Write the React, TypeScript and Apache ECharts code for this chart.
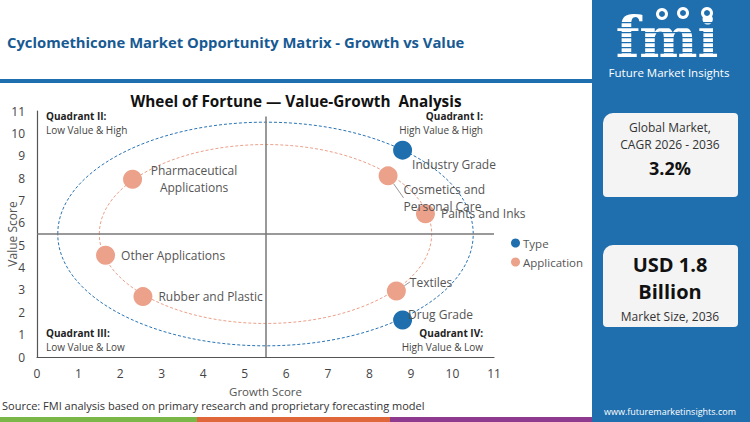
import { useEffect, useRef } from 'react';
import * as echarts from 'echarts';

const FONT = '"Open Sans", "Noto Sans", sans-serif';

// Axis scale (both axes run 0..11, step 1)
const axisMin = 0;
const axisMax = 11;
const axisStep = 1;

// Type series
const typeNames = ['Industry Grade', 'Drug Grade'];
const typeGrowth = [8.8, 8.8];
const typeValue = [9.25, 1.65];

// Application series
const appNames = [
    'Pharmaceutical\nApplications',
    'Other Applications',
    'Rubber and Plastic',
    'Cosmetics and\nPersonal Care',
    'Paints and Inks',
    'Textiles',
];
const appGrowth = [2.3, 1.65, 2.55, 8.45, 9.35, 8.65];
const appValue = [7.95, 4.55, 2.7, 8.1, 6.4, 2.95];

// Wheel rings: centre and radius in score units
const ringCenter = [5.5, 5.5];
const ringRadius = [5, 4]; // Type ring, Application ring
const quadrantSplit = 5.5;

const BLUE = '#1f6fae';
const SALMON = '#eba18a';

// label placement (px) per point name
const labelShift: Record<string, { dx: number; dy: number; center?: boolean; line?: boolean }> = {
    'Industry Grade': { dx: 0, dy: 14 },
    'Drug Grade': { dx: -4, dy: -6 },
    'Pharmaceutical\nApplications': { dx: 52, dy: 0, center: true },
    'Other Applications': { dx: 6, dy: 0 },
    'Rubber and Plastic': { dx: 6, dy: 0 },
    'Cosmetics and\nPersonal Care': { dx: 6, dy: 22, line: true },
    'Paints and Inks': { dx: 6, dy: 0 },
    Textiles: { dx: 4, dy: -9, line: true },
};

const toPoints = (names: string[], xs: number[], ys: number[]) =>
    names.map((n, i) => {
        const s = labelShift[n] || { dx: 0, dy: 0 };
        return {
            name: n,
            value: [xs[i], ys[i]],
            label: s.center ? { align: 'center' } : undefined,
            labelLine: { show: !!s.line, lineStyle: { color: '#999', width: 1 } },
        };
    });

const ringSeries = (idx: number, color: string) => ({
    type: 'custom',
    silent: true,
    z: 1,
    clip: false,
    renderItem: (_p: any, api: any) => {
        const c = api.coord([api.value(0), api.value(1)]);
        const s = api.size([api.value(2), api.value(2)]);
        return {
            type: 'ellipse',
            shape: { cx: c[0], cy: c[1], rx: s[0], ry: s[1] },
            style: { fill: 'none', stroke: color, lineWidth: 1, lineDash: [3, 2] },
        };
    },
    data: [[ringCenter[0], ringCenter[1], ringRadius[idx]]],
});

export default function App() {
    const chartRef = useRef<HTMLDivElement>(null);

    useEffect(() => {
        if (!chartRef.current) return;
        const chart = echarts.init(chartRef.current, undefined, { renderer: 'svg' });

        const labelLayout = (params: any) => {
            const s = labelShift[params.text];
            if (!s) return {};
            return { dx: s.dx, dy: s.dy };
        };

        const pointLabel = {
            show: true,
            position: 'right',
            distance: 0,
            formatter: '{b}',
            color: '#555',
            fontSize: 12,
            fontFamily: FONT,
            lineHeight: 17,
        };

        const option = {
            animation: false,
            textStyle: { fontFamily: FONT },
            title: [
                {
                    text: 'Cyclomethicone Market Opportunity Matrix - Growth vs Value',
                    left: 7,
                    top: 34,
                    padding: 0,
                    textStyle: { color: '#175a93', fontSize: 14.8, fontWeight: 'bold', fontFamily: FONT },
                },
                {
                    text: 'Wheel of Fortune — Value-Growth  Analysis',
                    left: 296,
                    top: 93,
                    padding: 0,
                    textAlign: 'center',
                    textStyle: { color: '#111', fontSize: 15.3, fontWeight: 'bold', fontFamily: FONT },
                },
            ],
            legend: {
                data: ['Type', 'Application'],
                orient: 'vertical',
                left: 511,
                top: 237,
                padding: 0,
                icon: 'circle',
                itemWidth: 9,
                itemHeight: 9,
                itemGap: 7,
                textStyle: { color: '#555', fontSize: 11.5, fontFamily: FONT, padding: [0, 0, 0, -2] },
            },
            grid: { left: 37, right: 256, top: 111, bottom: 65, outerBoundsMode: 'none' },
            xAxis: {
                type: 'value',
                min: axisMin,
                max: axisMax,
                interval: axisStep,
                name: 'Growth Score',
                nameLocation: 'middle',
                nameGap: 28,
                nameMoveOverlap: false,
                nameTextStyle: { color: '#555', fontSize: 11.5, fontFamily: FONT, lineHeight: 13 },
                axisLine: { show: true, lineStyle: { color: '#555', width: 1.2 } },
                axisTick: { show: false },
                axisLabel: { color: '#444', fontSize: 12, margin: 10, lineHeight: 13, fontFamily: FONT },
                splitLine: { show: false },
            },
            yAxis: {
                type: 'value',
                min: axisMin,
                max: axisMax,
                interval: axisStep,
                name: 'Value Score',
                nameLocation: 'middle',
                nameGap: 19,
                nameMoveOverlap: false,
                nameTextStyle: { color: '#555', fontSize: 12, fontFamily: FONT },
                axisLine: { show: true, lineStyle: { color: '#555', width: 1.2 } },
                axisTick: { show: false },
                axisLabel: { color: '#444', fontSize: 12, margin: 12, fontFamily: FONT },
                splitLine: { show: false },
            },
            series: [
                ringSeries(0, '#2a74b4'),
                ringSeries(1, SALMON),
                {
                    type: 'scatter',
                    name: 'Application',
                    symbolSize: 19,
                    z: 3,
                    itemStyle: { color: SALMON, opacity: 1 },
                    label: pointLabel,
                    labelLayout,
                    data: toPoints(appNames, appGrowth, appValue),
                    markLine: {
                        silent: true,
                        symbol: 'none',
                        label: { show: false },
                        lineStyle: { color: '#777', width: 1.5, type: 'solid' },
                        data: [
                            [{ coord: [quadrantSplit, axisMin] }, { coord: [quadrantSplit, 10.75] }],
                            [{ coord: [axisMin, quadrantSplit] }, { coord: [axisMax, quadrantSplit] }],
                        ],
                    },
                },
                {
                    type: 'scatter',
                    name: 'Type',
                    symbolSize: 19,
                    z: 4,
                    itemStyle: { color: BLUE, opacity: 1 },
                    label: pointLabel,
                    labelLayout,
                    data: toPoints(typeNames, typeGrowth, typeValue),
                },
            ],
            graphic: [
                // header rule
                { type: 'rect', shape: { x: 0, y: 79, width: 592, height: 4 }, style: { fill: BLUE } },
                // quadrant captions
                { type: 'text', left: 46, top: 111, style: { text: 'Quadrant II:', font: `bold 10px ${FONT}`, fill: '#222' } },
                { type: 'text', left: 46, top: 125, style: { text: 'Low Value & High', font: `10px ${FONT}`, fill: '#444' } },
                { type: 'text', right: 267, top: 111, style: { text: 'Quadrant I:', font: `bold 10px ${FONT}`, fill: '#222' } },
                { type: 'text', right: 267, top: 125, style: { text: 'High Value & High', font: `10px ${FONT}`, fill: '#444' } },
                { type: 'text', left: 46, top: 328, style: { text: 'Quadrant III:', font: `bold 10px ${FONT}`, fill: '#222' } },
                { type: 'text', left: 46, top: 342, style: { text: 'Low Value & Low', font: `10px ${FONT}`, fill: '#444' } },
                { type: 'text', right: 267, top: 328, style: { text: 'Quadrant IV:', font: `bold 10px ${FONT}`, fill: '#222' } },
                { type: 'text', right: 267, top: 342, style: { text: 'High Value & Low', font: `10px ${FONT}`, fill: '#444' } },
                // source
                {
                    type: 'text',
                    left: 2,
                    top: 400,
                    style: {
                        text: 'Source: FMI analysis based on primary research and proprietary forecasting model',
                        font: `11px ${FONT}`,
                        fill: '#333',
                    },
                },
                // bottom colour bar
                { type: 'rect', shape: { x: 0, y: 417, width: 197, height: 5 }, style: { fill: '#7ab648' } },
                { type: 'rect', shape: { x: 197, y: 417, width: 193, height: 5 }, style: { fill: '#e0673a' } },
                { type: 'rect', shape: { x: 390, y: 417, width: 202, height: 5 }, style: { fill: '#8e3b8f' } },
                // right panel
                { type: 'rect', shape: { x: 592, y: 0, width: 158, height: 422 }, style: { fill: BLUE } },
                // logo
                {
                    type: 'text',
                    x: 667,
                    y: 37,
                    scaleX: 1.1,
                    scaleY: 1.12,
                    style: {
                        text: 'fmi',
                        font: `bold 50px "DejaVu Serif", serif`,
                        lineHeight: 34,
                        fill: '#fff',
                        align: 'center',
                        verticalAlign: 'middle',
                    },
                },
                ...[22, 27, 32, 37, 42, 47, 52, 57].map((y) => ({
                    type: 'rect',
                    shape: { x: 610, y, width: 116, height: 1.3 },
                    style: { fill: BLUE },
                })),
                { type: 'circle', shape: { cx: 662, cy: 14, r: 6 }, style: { fill: '#fff' } },
                { type: 'circle', shape: { cx: 683, cy: 13, r: 6 }, style: { fill: '#fff' } },
                { type: 'circle', shape: { cx: 707, cy: 13, r: 6 }, style: { fill: '#fff' } },
                { type: 'circle', shape: { cx: 662, cy: 14, r: 3 }, style: { fill: BLUE } },
                { type: 'circle', shape: { cx: 683, cy: 13, r: 3 }, style: { fill: BLUE } },
                { type: 'circle', shape: { cx: 707, cy: 13, r: 3 }, style: { fill: BLUE } },
                {
                    type: 'text',
                    x: 669,
                    y: 72,
                    style: {
                        text: 'Future Market Insights',
                        font: `11.5px ${FONT}`,
                        fill: '#fff',
                        align: 'center',
                        verticalAlign: 'middle',
                    },
                },
                // CAGR card
                {
                    type: 'rect',
                    shape: { x: 603, y: 113, width: 135, height: 84, r: [10, 4, 4, 4] },
                    style: { fill: '#f4f4f4' },
                },
                { type: 'text', x: 670, y: 127, style: { text: 'Global Market,', font: `12px ${FONT}`, fill: '#333', align: 'center', verticalAlign: 'middle' } },
                { type: 'text', x: 670, y: 144, style: { text: 'CAGR 2026 - 2036', font: `12px ${FONT}`, fill: '#333', align: 'center', verticalAlign: 'middle' } },
                { type: 'text', x: 670, y: 168, style: { text: '3.2%', font: `bold 18px ${FONT}`, fill: '#111', align: 'center', verticalAlign: 'middle' } },
                // market size card
                {
                    type: 'rect',
                    shape: { x: 603, y: 245, width: 135, height: 82, r: [10, 4, 4, 4] },
                    style: { fill: '#f4f4f4' },
                },
                { type: 'text', x: 670, y: 264, style: { text: 'USD 1.8', font: `bold 20px ${FONT}`, fill: '#111', align: 'center', verticalAlign: 'middle' } },
                { type: 'text', x: 670, y: 291, style: { text: 'Billion', font: `bold 20px ${FONT}`, fill: '#111', align: 'center', verticalAlign: 'middle' } },
                { type: 'text', x: 670, y: 316, style: { text: 'Market Size, 2036', font: `12px ${FONT}`, fill: '#333', align: 'center', verticalAlign: 'middle' } },
                { type: 'text', x: 670, y: 411, style: { text: 'www.futuremarketinsights.com', font: `9px ${FONT}`, fill: '#fff', align: 'center', verticalAlign: 'middle' } },
            ],
        };

        chart.setOption(option as any);
        return () => {
            chart.dispose();
        };
    }, []);

    return (
        <div
            ref={chartRef}
            style={{ position: 'fixed', left: 0, top: 0, width: '750px', height: '422px', background: '#fff' }}
        />
    );
}
